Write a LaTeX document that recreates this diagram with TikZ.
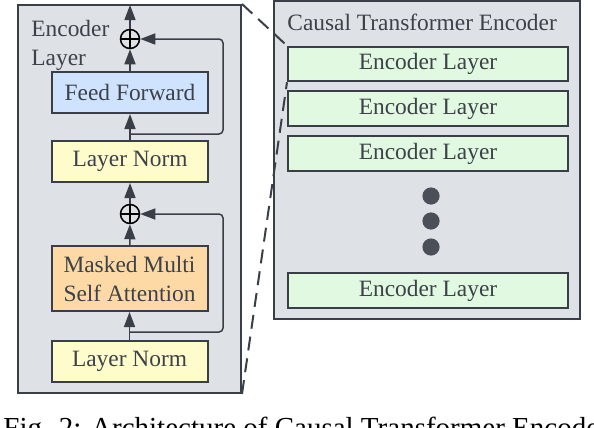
\documentclass[tikz,border=0pt]{standalone}
\usepackage{fontspec}
\setmainfont{Liberation Serif}
\usetikzlibrary{arrows.meta}
\definecolor{edge}{HTML}{3A3F47}
\definecolor{txt}{HTML}{3D4149}
\definecolor{panelbg}{HTML}{DEE1E6}
\definecolor{ffblue}{HTML}{CFE2FE}
\definecolor{lnyellow}{HTML}{FEFCCB}
\definecolor{attnorange}{HTML}{FDDAA5}
\definecolor{elgreen}{HTML}{E1F9E1}
\definecolor{dotgray}{HTML}{4B5058}
\begin{document}
\begin{tikzpicture}[x=0.5pt,y=-0.5pt,
    every node/.style={text=txt,font=\fontsize{11.7}{14.5}\selectfont},
    panel/.style={draw=edge,line width=1pt,fill=panelbg,inner sep=0pt},
    blk/.style={draw=edge,line width=1pt,minimum width=78pt,minimum height=20.5pt,inner sep=0pt},
    elblk/.style={blk,fill=elgreen,minimum width=140pt,minimum height=17.25pt},
    arr/.style={draw=edge,line width=0.75pt,-{Triangle[length=7.5pt,width=5.5pt]}},
    addop/.style={draw=black,line width=0.75pt,circle,minimum size=9.5pt,inner sep=0pt}]
  \useasboundingbox (0,0) rectangle (594,428);
  % left: one encoder layer
  \node[panel,minimum width=111.5pt,minimum height=194pt] (enclayer) at (129.5,199) {};
  \node[anchor=north west,align=left,inner sep=0pt] (enctitle) at (31,20) {Encoder\\Layer};
  \node[blk,fill=lnyellow] (ln1) at (129.5,361.5) {Layer Norm};
  \node[blk,fill=attnorange,minimum height=32.5pt,align=center] (mmsa) at (129.5,278.5) {Masked Multi\\Self Attention};
  \node[addop] (add1) at (130,214) {};
  \node[blk,fill=lnyellow] (ln2) at (130,161.5) {Layer Norm};
  \node[blk,fill=ffblue] (ff) at (130,92.5) {Feed Forward};
  \node[addop] (add2) at (130,39) {};
  \foreach \n in {add1,add2}{\draw[line width=0.75pt] (\n.north)--(\n.south) (\n.west)--(\n.east);}
  \coordinate (outtop) at (130,5);
  \coordinate (res1) at (130,332);
  \coordinate (res2) at (130,134);
  \draw[arr] (ln1) -- (mmsa);
  \draw[arr] (mmsa) -- (add1);
  \draw[arr] (add1) -- (ln2);
  \draw[arr] (ln2) -- (ff);
  \draw[arr] (ff) -- (add2);
  \draw[arr] (add2) -- (outtop);
  \draw[arr,rounded corners=2pt] (res1) -- ++(93,0) |- (add1);
  \draw[arr,rounded corners=2pt] (res2) -- ++(93,0) |- (add2);
  % right: the stack
  \node[panel,minimum width=153pt,minimum height=159pt] (causal) at (427,160) {};
  \node[anchor=base west,inner sep=0pt] (causaltitle) at (287,30.5) {Causal Transformer Encoder};
  \foreach \i/\y in {1/64,2/108.5,3/153.5,4/290.5}{\node[elblk] (el\i) at (428,\y) {Encoder Layer};}
  \foreach \y in {196,221,247}{\fill[dotgray] (431,\y) circle (4.3pt);}
  % zoom lines
  \draw[edge,line width=1pt,dash pattern=on 7pt off 4pt] (enclayer.north east) -- (el1.north west);
  \draw[edge,line width=1pt,dash pattern=on 7pt off 4pt] (enclayer.south east) -- (el1.south west);
  \node[anchor=base west,inner sep=0pt,font=\fontsize{14.5}{17}\selectfont,text=black] (caption) at (3,437) {Fig. 2: Architecture of Causal Transformer Encoder};
\end{tikzpicture}
\end{document}
